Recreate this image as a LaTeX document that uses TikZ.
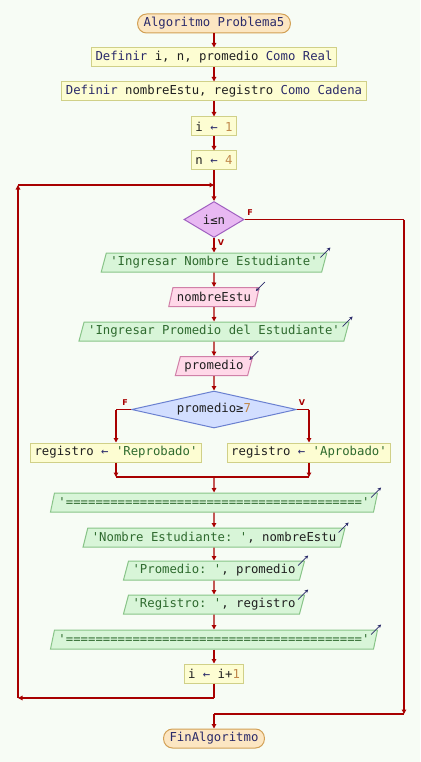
\documentclass[tikz,border=0pt]{standalone}
\usepackage{fontspec}
\setmonofont{DejaVu Sans Mono}
\setsansfont{DejaVu Sans}
\usetikzlibrary{shapes.geometric,arrows.meta}

\definecolor{bgcol}{HTML}{F7FCF5}
\definecolor{flowred}{HTML}{A80000}
\definecolor{kwcol}{HTML}{2A2A6A}
\definecolor{varcol}{HTML}{202020}
\definecolor{strcol}{HTML}{2E6A2E}
\definecolor{numcol}{HTML}{C0884A}
\definecolor{termfill}{HTML}{FCE6C2}
\definecolor{termdraw}{HTML}{D2A055}
\definecolor{procfill}{HTML}{FDFDD2}
\definecolor{procdraw}{HTML}{D0D088}
\definecolor{outfill}{HTML}{D8F5D8}
\definecolor{outdraw}{HTML}{88C488}
\definecolor{infill}{HTML}{FFD8E8}
\definecolor{indraw}{HTML}{D080A8}
\definecolor{condfill}{HTML}{E8B8F2}
\definecolor{conddraw}{HTML}{A060C0}
\definecolor{cmpfill}{HTML}{D2DEFF}
\definecolor{cmpdraw}{HTML}{6A80D0}

\newcommand{\flowfont}{\ttfamily\fontsize{12.3pt}{14pt}\selectfont}
\newcommand{\kwd}[1]{\textcolor{kwcol}{#1}}
\newcommand{\strg}[1]{\textcolor{strcol}{#1}}
\newcommand{\numb}[1]{\textcolor{numcol}{#1}}
\newcommand{\asgn}{\textcolor{kwcol}{←}}

\tikzset{
    line/.style={draw=flowred, line width=1.1pt},
    flow/.style={line, -{Triangle[length=4.5pt,width=4.5pt]}},
    term/.style={draw=termdraw, fill=termfill, line width=1pt, rounded corners=9pt, minimum height=19pt,
        inner xsep=6pt, inner ysep=1pt, text=varcol, font=\flowfont},
    proc/.style={draw=procdraw, fill=procfill, line width=1pt, minimum height=19pt, inner xsep=4pt,
        inner ysep=1pt, text=varcol, font=\flowfont},
    outbox/.style={trapezium, trapezium left angle=70, trapezium right angle=110,
        trapezium stretches=true, draw=outdraw, fill=outfill, line width=1pt, minimum height=19pt,
        inner xsep=4pt, inner ysep=1pt, text=varcol, font=\flowfont},
    inbox/.style={outbox, draw=indraw, fill=infill},
    cond/.style={diamond, draw=conddraw, fill=condfill, line width=1pt, inner sep=0pt, text=varcol, font=\flowfont},
    outicon/.style={draw=kwcol, line width=0.7pt, -{Stealth[length=3.5pt,width=3.5pt]}},
    branch/.style={text=flowred, font=\sffamily\bfseries\fontsize{8pt}{9pt}\selectfont}
}

\begin{document}
\begin{tikzpicture}[x=1pt, y=-1pt]
    \useasboundingbox[fill=bgcol] (0,0) rectangle (420,762);

    % Start and definitions
    \node[term] (start) at (214,23.5) {\kwd{Algoritmo Problema5}};
    \node[proc] (def1) at (214,57.5) {\kwd{Definir} i, n, promedio \kwd{Como Real}};
    \node[proc] (def2) at (214,91.5) {\kwd{Definir} nombreEstu, registro \kwd{Como Cadena}};
    \node[proc] (initi) at (214,126.5) {i \asgn{} \numb{1}};
    \node[proc] (initn) at (214,160.5) {n \asgn{} \numb{4}};

    % Loop condition
    \node[cond, minimum width=60pt, minimum height=36pt, aspect=1.67] (cond) at (214,219.5) {i≤n};
    \node[branch] at (250,213) {F};
    \node[branch] at (221,243) {V};

    % Read student data
    \node[outbox] (out1) at (214,262.5) {\strg{'Ingresar Nombre Estudiante'}};
    \node[inbox] (in1) at (214,297) {nombreEstu};
    \node[outbox] (out2) at (214,331.5) {\strg{'Ingresar Promedio del Estudiante'}};
    \node[inbox] (in2) at (214,366) {promedio};

    % Grade check
    \node[cond, draw=cmpdraw, fill=cmpfill, minimum width=165pt, minimum height=37pt, aspect=4.5] (cmp) at (214,409.5) {promedio≥\numb{7}};
    \node[branch] at (125,403) {F};
    \node[branch] at (302,403) {V};
    \node[proc] (repr) at (116,452.5) {registro \asgn{} \strg{'Reprobado'}};
    \node[proc] (apro) at (309,452.5) {registro \asgn{} \strg{'Aprobado'}};

    % Report
    \node[outbox] (sep1) at (214,502.5) {\strg{'========================================'}};
    \node[outbox] (show1) at (214,537.5) {\strg{'Nombre Estudiante: '}, nombreEstu};
    \node[outbox] (show2) at (214,570.5) {\strg{'Promedio: '}, promedio};
    \node[outbox] (show3) at (214,604.5) {\strg{'Registro: '}, registro};
    \node[outbox] (sep2) at (214,639.5) {\strg{'========================================'}};
    \node[proc] (inc) at (214,673.5) {i \asgn{} i+\numb{1}};

    % End
    \node[term] (fin) at (214,738.5) {\kwd{FinAlgoritmo}};

    % Corner points
    \coordinate (join) at (214,185);
    \coordinate (backD) at (214,698);
    \coordinate (backL) at (18,698);
    \coordinate (backT) at (18,185);
    \coordinate (exitR) at (404,219.5);
    \coordinate (exitD) at (404,714);
    \coordinate (exitJ) at (214,714);
    \coordinate (brF) at (116,409.5);
    \coordinate (brV) at (309,409.5);
    \coordinate (mergeF) at (116,477);
    \coordinate (mergeV) at (309,477);
    \coordinate (mergeC) at (214,477);

    % Straight connectors
    \draw[flow] (start) -- (def1);
    \draw[flow] (def1) -- (def2);
    \draw[flow] (def2) -- (initi);
    \draw[flow] (initi) -- (initn);
    \draw[flow] (initn) -- (cond);
    \draw[flow] (cond) -- (out1);
    \draw[flow] (out1) -- (in1);
    \draw[flow] (in1) -- (out2);
    \draw[flow] (out2) -- (in2);
    \draw[flow] (in2) -- (cmp);
    \draw[flow] (mergeC) -- (sep1);
    \draw[flow] (sep1) -- (show1);
    \draw[flow] (show1) -- (show2);
    \draw[flow] (show2) -- (show3);
    \draw[flow] (show3) -- (sep2);
    \draw[flow] (sep2) -- (inc);

    % Branches of the grade check
    \draw[line] (cmp.west) -- (brF);
    \draw[flow] (brF) -- (repr);
    \draw[line] (cmp.east) -- (brV);
    \draw[flow] (brV) -- (apro);
    \draw[flow] (repr) -- (mergeF);
    \draw[flow] (apro) -- (mergeV);
    \draw[line] (mergeF) -- (mergeV);

    % Loop back
    \draw[line] (inc) -- (backD);
    \draw[flow] (backD) -- (backL);
    \draw[flow] (backL) -- (backT);
    \draw[flow] (backT) -- (join);

    % Loop exit
    \draw[line] (cond.east) -- (exitR);
    \draw[flow] (exitR) -- (exitD);
    \draw[line] (exitD) -- (exitJ);
    \draw[flow] (exitJ) -- (fin);

    % Output and input marks
    \foreach \n in {out1, out2, sep1, show1, show2, show3, sep2} {
        \draw[outicon] (\n.top right corner) ++(-7pt,-5pt) -- ++(10pt,10pt);
    }
    \foreach \n in {in1, in2} {
        \draw[outicon] (\n.top right corner) ++(5pt,5pt) -- ++(-9pt,-9pt);
    }
\end{tikzpicture}
\end{document}
